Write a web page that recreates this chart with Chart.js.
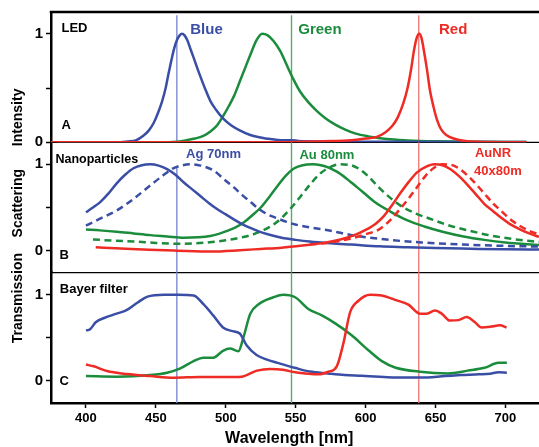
<!DOCTYPE html>
<html>
<head>
<meta charset="utf-8">
<script src="https://cdn.jsdelivr.net/npm/chart.js@4/dist/chart.umd.min.js"></script>
<style>
  html, body { margin: 0; padding: 0; background: #fff; }
</style>
</head>
<body>
<canvas id="spectra" width="539" height="447"></canvas>
<script>
// panel A - LED emission
const ledBlueNm = [380, 420, 430, 436, 441, 445, 448.5, 451.5, 454.5, 457, 459, 461, 463, 465, 467, 468.7, 470.5, 472.5, 475, 477, 480, 482, 485, 489, 493, 498, 504, 510, 517, 525, 532, 540, 547, 552, 570, 610, 660, 715];
const ledBlueVal = [0, 0, 0.008, 0.02, 0.06, 0.11, 0.18, 0.27, 0.38, 0.5, 0.63, 0.75, 0.86, 0.94, 0.985, 1.0, 0.985, 0.94, 0.85, 0.78, 0.67, 0.6, 0.5, 0.38, 0.3, 0.22, 0.155, 0.11, 0.07, 0.045, 0.03, 0.02, 0.02, 0.012, 0.008, 0.006, 0.004, 0.003];
const ledGreenNm = [380, 450, 465, 472, 478, 484, 489, 494, 498, 502, 506, 510, 514, 518, 522, 526, 530, 534, 539, 544, 548, 553, 559, 565, 571, 578, 585, 593, 602, 615, 630, 650, 680, 715];
const ledGreenVal = [0, 0, 0.005, 0.02, 0.035, 0.06, 0.1, 0.16, 0.24, 0.33, 0.43, 0.56, 0.69, 0.82, 0.94, 1.0, 0.985, 0.935, 0.84, 0.7, 0.59, 0.47, 0.37, 0.29, 0.225, 0.165, 0.12, 0.08, 0.055, 0.03, 0.018, 0.01, 0.005, 0.003];
const ledRedNm = [375, 540, 570, 590, 600, 608, 614, 619, 623, 627, 630, 632.5, 634.5, 636.5, 638.3, 640, 642, 644, 646, 648.5, 651, 654, 658, 663, 670, 680, 715];
const ledRedVal = [0, 0, 0.01, 0.02, 0.035, 0.05, 0.09, 0.15, 0.23, 0.36, 0.5, 0.67, 0.84, 0.96, 1.0, 0.96, 0.82, 0.66, 0.48, 0.33, 0.21, 0.12, 0.065, 0.035, 0.015, 0.005, 0];

// panel B - nanoparticle scattering (solid / dashed)
const agNm = [400, 405, 410, 416, 422, 428, 434, 440, 446, 452, 458, 464, 470, 476, 482, 488, 494, 500, 506, 512, 518, 524, 530, 540, 550, 560, 575, 590, 610, 630, 650, 675, 700, 724];
const agVal = [0.445, 0.5, 0.56, 0.66, 0.78, 0.88, 0.955, 0.99, 1.0, 0.985, 0.945, 0.88, 0.79, 0.71, 0.63, 0.55, 0.48, 0.42, 0.36, 0.305, 0.26, 0.22, 0.19, 0.15, 0.125, 0.105, 0.085, 0.07, 0.05, 0.04, 0.03, 0.022, 0.015, 0.012];
const agDashNm = [400, 410, 422, 434, 446, 455, 462, 468, 474, 482, 491, 500, 506, 512, 518, 524, 530, 536, 548, 560, 575, 590, 603, 620, 640, 670, 700, 724];
const agDashVal = [0.29, 0.37, 0.465, 0.6, 0.756, 0.87, 0.95, 0.985, 1.0, 0.985, 0.93, 0.81, 0.73, 0.64, 0.56, 0.48, 0.42, 0.38, 0.31, 0.27, 0.23, 0.18, 0.15, 0.12, 0.095, 0.07, 0.055, 0.047];
const auNm = [400, 410, 422, 434, 446, 458, 470, 480, 489, 495, 501, 507, 513, 519, 525, 531, 537, 543, 549, 555, 562, 568, 574, 580, 586, 592, 598, 606, 618, 630, 642, 655, 670, 685, 700, 724];
const auVal = [0.244, 0.235, 0.22, 0.2, 0.18, 0.165, 0.15, 0.155, 0.17, 0.195, 0.23, 0.27, 0.33, 0.41, 0.5, 0.62, 0.75, 0.87, 0.955, 0.99, 1.0, 0.99, 0.96, 0.91, 0.84, 0.76, 0.68, 0.57, 0.45, 0.35, 0.28, 0.22, 0.165, 0.125, 0.095, 0.065];
const auDashNm = [405, 420, 435, 450, 465, 478, 490, 500, 510, 518, 526, 533, 540, 547, 554, 561, 568, 575, 581, 588, 595, 602, 609, 617, 626, 636, 646, 658, 672, 688, 705, 724];
const auDashVal = [0.13, 0.115, 0.105, 0.09, 0.08, 0.085, 0.1, 0.12, 0.15, 0.18, 0.23, 0.29, 0.38, 0.5, 0.64, 0.78, 0.9, 0.97, 1.0, 0.995, 0.95, 0.86, 0.74, 0.62, 0.51, 0.43, 0.37, 0.3, 0.24, 0.18, 0.135, 0.1];
const aunrNm = [407, 425, 445, 465, 490, 510, 525, 540, 555, 570, 582, 592, 600, 607, 613, 619, 625, 631, 637, 643, 649, 655, 661, 667, 673, 679, 685, 691, 697, 703, 710, 717, 724];
const aunrVal = [0.04, 0.025, 0.01, 0.0, -0.01, 0.005, 0.02, 0.035, 0.06, 0.09, 0.13, 0.18, 0.24, 0.31, 0.4, 0.53, 0.67, 0.8, 0.91, 0.97, 1.0, 0.99, 0.94, 0.86, 0.76, 0.65, 0.54, 0.46, 0.38, 0.31, 0.25, 0.2, 0.16];
const aunrDashNm = [560, 575, 588, 600, 610, 618, 625, 631, 637, 643, 649, 655, 661, 667, 673, 679, 685, 691, 697, 703, 710, 717, 724];
const aunrDashVal = [0.07, 0.095, 0.135, 0.19, 0.25, 0.36, 0.49, 0.61, 0.74, 0.87, 0.96, 1.0, 0.995, 0.95, 0.87, 0.77, 0.66, 0.55, 0.46, 0.37, 0.29, 0.23, 0.19];

// panel C - Bayer filter transmission
const bayerBlueNm = [400, 403, 407, 413, 422, 429, 437, 444, 456, 466, 477, 484, 491, 498, 504, 510, 515, 522, 529, 537, 550, 560, 573, 585, 597, 610, 621, 639, 657, 668, 681, 689, 695, 701];
const bayerBlueVal = [0.586, 0.6, 0.68, 0.73, 0.78, 0.82, 0.91, 0.977, 1.0, 1.0, 0.99, 0.89, 0.76, 0.62, 0.58, 0.55, 0.41, 0.3, 0.25, 0.21, 0.15, 0.11, 0.088, 0.07, 0.06, 0.048, 0.04, 0.04, 0.057, 0.068, 0.077, 0.085, 0.1, 0.095];
const bayerGreenNm = [400, 422, 446, 458, 467.5, 477, 484, 491, 498, 503, 509, 512.7, 517.5, 523.5, 534, 541, 549.6, 559, 568.7, 578, 590, 602, 611.6, 621, 639, 659, 673, 685, 695, 701];
const bayerGreenVal = [0.057, 0.05, 0.069, 0.096, 0.146, 0.23, 0.27, 0.27, 0.35, 0.375, 0.345, 0.51, 0.78, 0.89, 0.97, 1.0, 0.97, 0.835, 0.76, 0.67, 0.53, 0.356, 0.23, 0.157, 0.107, 0.088, 0.12, 0.153, 0.21, 0.21];
const bayerRedNm = [400, 405.6, 415, 429.4, 446, 462.7, 481.8, 505.6, 511.6, 522.3, 531.8, 541, 549.6, 556.8, 566.3, 573.4, 579.4, 584, 589, 594.9, 603.2, 611.6, 621, 630.6, 639, 643.7, 649.6, 654.4, 660.4, 666.3, 672.3, 678.2, 683, 690, 696, 700.8];
const bayerRedVal = [0.19, 0.17, 0.115, 0.08, 0.057, 0.038, 0.046, 0.046, 0.05, 0.12, 0.14, 0.13, 0.1, 0.088, 0.077, 0.107, 0.17, 0.43, 0.8, 0.93, 1.0, 0.99, 0.94, 0.885, 0.78, 0.78, 0.816, 0.78, 0.7, 0.705, 0.74, 0.68, 0.62, 0.63, 0.645, 0.62];

// LED peak reference lines (nm) and axis ticks
const refNm = [465, 547, 638];
const xTicks = [400, 450, 500, 550, 600, 650, 700];
const yTicks = [0, 0.5, 1];

const BLUE = '#3a4ea5', GREEN = '#1a8c3c', RED = '#ee2b24';
const REF_COLORS = ['#7d8bd0', '#55ad68', '#f07c7c'];
const FONT = '"Liberation Sans", Arial, sans-serif';

const notes = [
  {text: 'LED', nm: 382.5, v: 1.046, axis: 'yA', color: '#000', size: 13},
  {text: 'Blue', nm: 474.6, v: 1.04, axis: 'yA', color: BLUE, size: 15},
  {text: 'Green', nm: 551.8, v: 1.04, axis: 'yA', color: GREEN, size: 15},
  {text: 'Red', nm: 652.5, v: 1.04, axis: 'yA', color: RED, size: 15},
  {text: 'A', nm: 382.5, v: 0.154, axis: 'yA', color: '#000', size: 13},
  {text: 'Nanoparticles', nm: 378.2, v: 1.052, axis: 'yB', color: '#000', size: 12.5},
  {text: 'Ag 70nm', nm: 471.6, v: 1.11, axis: 'yB', color: BLUE, size: 13},
  {text: 'Au 80nm', nm: 552.7, v: 1.105, axis: 'yB', color: GREEN, size: 13},
  {text: 'AuNR', nm: 678.2, v: 1.128, axis: 'yB', color: RED, size: 13},
  {text: '40x80m', nm: 677.5, v: 0.919, axis: 'yB', color: RED, size: 13},
  {text: 'B', nm: 381, v: -0.058, axis: 'yB', color: '#000', size: 13},
  {text: 'Bayer filter', nm: 381.3, v: 1.057, axis: 'yC', color: '#000', size: 13},
  {text: 'C', nm: 381, v: -0.006, axis: 'yC', color: '#000', size: 13}
];
const sideTitles = [
  {text: 'Intensity', axis: 'yA', v: 0.23},
  {text: 'Scattering', axis: 'yB', v: 0.55},
  {text: 'Transmission', axis: 'yC', v: 0.96}
];

function curve(nm, vals, axis, color, dashed) {
  return {
    data: nm.map((x, i) => ({x: x, y: vals[i]})),
    yAxisID: axis,
    borderColor: color,
    borderWidth: 2.5,
    borderDash: dashed ? [7, 4.5] : [],
    showLine: true,
    pointRadius: 0,
    cubicInterpolationMode: 'monotone'
  };
}

function refLine(i, axis, lo, hi) {
  return {
    data: [{x: refNm[i], y: lo}, {x: refNm[i], y: hi}],
    yAxisID: axis,
    borderColor: REF_COLORS[i],
    borderWidth: 1.4,
    showLine: true,
    pointRadius: 0
  };
}

function panelAxis(min, max, weight) {
  return {
    type: 'linear', position: 'left', stack: 'panels', stackWeight: 1, weight: weight,
    min: min, max: max,
    afterFit: s => { s.width = 50; },
    afterBuildTicks: s => { s.ticks = yTicks.map(v => ({value: v})); },
    ticks: {
      font: {size: 15, weight: 'bold', family: FONT}, color: '#000', padding: 3,
      callback: v => (v === 0 || v === 1) ? String(v) : ''
    },
    grid: {drawOnChartArea: false, drawTicks: true, tickLength: 5, tickColor: '#000', tickWidth: 1.5},
    border: {display: true, color: '#000', width: 2.5}
  };
}

const frame = {
  id: 'frame',
  beforeDatasetsDraw(chart) {
    const {ctx, chartArea: a, scales} = chart;
    ctx.save();
    ctx.strokeStyle = '#000';
    ctx.lineWidth = 2.5;
    ctx.beginPath(); ctx.moveTo(a.left - 1.25, a.top); ctx.lineTo(a.right, a.top); ctx.stroke();
    ctx.lineWidth = 1.2;
    ['yB', 'yC'].forEach(id => {
      const y = scales[id].top;
      ctx.beginPath(); ctx.moveTo(a.left, y); ctx.lineTo(a.right, y); ctx.stroke();
    });
    ctx.restore();
  },
  afterDraw(chart) {
    const {ctx, scales} = chart;
    ctx.save();
    ctx.textBaseline = 'middle';
    ctx.textAlign = 'left';
    notes.forEach(n => {
      ctx.font = `bold ${n.size}px ${FONT}`;
      ctx.fillStyle = n.color;
      ctx.fillText(n.text, scales.x.getPixelForValue(n.nm), scales[n.axis].getPixelForValue(n.v));
    });
    ctx.font = `bold 14px ${FONT}`;
    ctx.fillStyle = '#000';
    ctx.textAlign = 'center';
    sideTitles.forEach(t => {
      ctx.save();
      ctx.translate(scales[t.axis].left + 17, scales[t.axis].getPixelForValue(t.v));
      ctx.rotate(-Math.PI / 2);
      ctx.fillText(t.text, 0, 0);
      ctx.restore();
    });
    ctx.font = `bold 16px ${FONT}`;
    ctx.fillText('Wavelength [nm]', scales.x.getPixelForValue(545.4), scales.x.top + 36);
    ctx.restore();
  }
};

new Chart(document.getElementById('spectra'), {
  type: 'scatter',
  data: {
    datasets: [
      curve(ledRedNm, ledRedVal, 'yA', RED),
      curve(ledBlueNm, ledBlueVal, 'yA', BLUE),
      curve(ledGreenNm, ledGreenVal, 'yA', GREEN),
      curve(aunrNm, aunrVal, 'yB', RED),
      curve(aunrDashNm, aunrDashVal, 'yB', RED, true),
      curve(agNm, agVal, 'yB', BLUE),
      curve(agDashNm, agDashVal, 'yB', BLUE, true),
      curve(auNm, auVal, 'yB', GREEN),
      curve(auDashNm, auDashVal, 'yB', GREEN, true),
      curve(bayerRedNm, bayerRedVal, 'yC', RED),
      curve(bayerBlueNm, bayerBlueVal, 'yC', BLUE),
      curve(bayerGreenNm, bayerGreenVal, 'yC', GREEN),
      refLine(0, 'yA', 0, 1.17), refLine(1, 'yA', 0, 1.17), refLine(2, 'yA', 0, 1.17),
      refLine(0, 'yB', -0.26, 0.98), refLine(1, 'yB', -0.26, 1.26), refLine(2, 'yB', -0.26, 1.26),
      refLine(0, 'yC', -0.26, 1.26), refLine(1, 'yC', -0.26, 1.26), refLine(2, 'yC', -0.26, 1.26)
    ]
  },
  options: {
    responsive: false,
    devicePixelRatio: 1,
    animation: false,
    layout: {padding: {left: 1, top: 11, right: 0, bottom: 0}},
    plugins: {legend: {display: false}, tooltip: {enabled: false}},
    scales: {
      x: {
        type: 'linear', min: 375, max: 724,
        afterFit: s => { s.height = 44; },
        afterBuildTicks: s => { s.ticks = xTicks.map(v => ({value: v})); },
        ticks: {font: {size: 13, weight: 'bold', family: FONT}, color: '#000', padding: 3, maxRotation: 0},
        grid: {drawOnChartArea: false, tickLength: 5, tickColor: '#000', tickWidth: 1.5},
        border: {color: '#000', width: 2.5}
      },
      yC: panelAxis(-0.255, 1.255, 1),
      yB: panelAxis(-0.255, 1.255, 2),
      yA: panelAxis(0, 1.2, 3)
    }
  },
  plugins: [frame]
});
</script>
</body>
</html>
